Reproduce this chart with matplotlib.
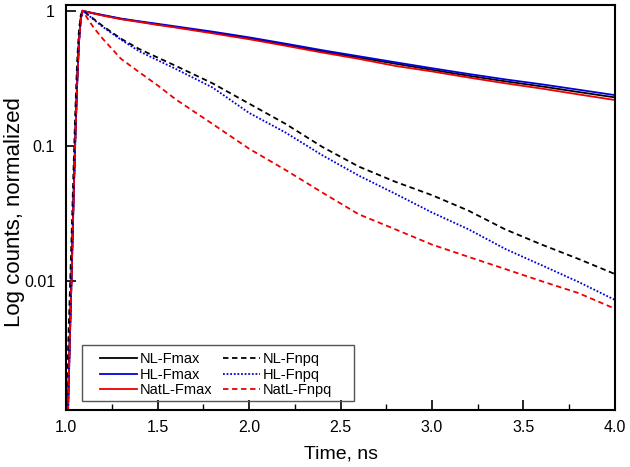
import matplotlib
matplotlib.use("Agg")
import matplotlib.pyplot as plt
from matplotlib.patches import Rectangle
from matplotlib.ticker import FixedLocator, MultipleLocator, NullLocator

plt.rcParams['font.family'] = ['Liberation Sans', 'DejaVu Sans']

# time grid (ns)
t = [1.00, 1.01, 1.02, 1.03, 1.04, 1.05, 1.06, 1.07, 1.08, 1.09, 1.10,
     1.15, 1.20, 1.30, 1.40, 1.50, 1.60, 1.80, 2.00, 2.20, 2.40, 2.60,
     2.80, 3.00, 3.20, 3.40, 3.60, 3.80, 4.00]

# normalized counts
nl_fmax = [0.0006, 0.0012, 0.004, 0.012, 0.04, 0.12, 0.30, 0.60, 0.88, 1.0, 0.99,
           0.955, 0.925, 0.87, 0.83, 0.79, 0.755, 0.69, 0.625, 0.56, 0.50, 0.45,
           0.405, 0.365, 0.33, 0.30, 0.275, 0.25, 0.228]
hl_fmax = [0.0005, 0.0010, 0.0035, 0.011, 0.037, 0.11, 0.28, 0.58, 0.87, 1.0, 0.99,
           0.96, 0.93, 0.875, 0.835, 0.80, 0.765, 0.70, 0.635, 0.57, 0.51, 0.46,
           0.415, 0.375, 0.34, 0.31, 0.285, 0.26, 0.237]
natl_fmax = [0.0005, 0.0011, 0.0038, 0.011, 0.038, 0.115, 0.29, 0.59, 0.87, 1.0, 0.99,
             0.955, 0.92, 0.865, 0.825, 0.785, 0.75, 0.68, 0.615, 0.55, 0.49, 0.44,
             0.39, 0.355, 0.32, 0.29, 0.265, 0.24, 0.218]
nl_fnpq = [0.0012, 0.003, 0.008, 0.022, 0.065, 0.18, 0.42, 0.72, 0.93, 1.0, 0.98,
           0.87, 0.77, 0.62, 0.52, 0.45, 0.39, 0.29, 0.205, 0.145, 0.098, 0.070,
           0.054, 0.043, 0.033, 0.024, 0.0185, 0.0145, 0.0112]
hl_fnpq = [0.0005, 0.0010, 0.0035, 0.011, 0.037, 0.11, 0.28, 0.58, 0.87, 1.0, 0.98,
           0.86, 0.76, 0.61, 0.50, 0.43, 0.37, 0.27, 0.175, 0.125, 0.085, 0.060,
           0.044, 0.032, 0.024, 0.0172, 0.013, 0.0098, 0.0072]
natl_fnpq = [0.0005, 0.0011, 0.0038, 0.011, 0.038, 0.115, 0.29, 0.59, 0.87, 1.0, 0.95,
             0.75, 0.62, 0.44, 0.35, 0.28, 0.22, 0.145, 0.095, 0.066, 0.045, 0.031,
             0.024, 0.0185, 0.015, 0.0122, 0.0099, 0.0081, 0.0062]

fig = plt.figure(figsize=(6.3, 4.67), dpi=100)
ax = fig.add_axes([0.105, 0.122, 0.871, 0.867])

ax.plot(t, nl_fmax, color='black', lw=1.3, label='NL-Fmax')
ax.plot(t, hl_fmax, color='#0000dd', lw=1.3, label='HL-Fmax')
ax.plot(t, natl_fmax, color='#ee0000', lw=1.3, label='NatL-Fmax')
ax.plot(t, nl_fnpq, color='black', lw=1.3, ls=(0, (3, 2)), label='NL-Fnpq')
ax.plot(t, hl_fnpq, color='#0000dd', lw=1.3, ls=(0, (1, 1)), label='HL-Fnpq')
ax.plot(t, natl_fnpq, color='#ee0000', lw=1.3, ls=(0, (3, 2)), label='NatL-Fnpq')

ax.set_yscale('log')
ax.set_xlim(1.0, 4.0)
ax.set_ylim(0.0011, 1.1)

ax.yaxis.set_major_locator(FixedLocator([0.01, 0.1, 1]))
ax.set_yticklabels(['0.01', '0.1', '1'])
ax.yaxis.set_minor_locator(NullLocator())
ax.xaxis.set_major_locator(MultipleLocator(0.5))
ax.xaxis.set_minor_locator(MultipleLocator(0.25))
ax.xaxis.set_major_formatter(plt.FormatStrFormatter('%.1f'))

ax.tick_params(axis='both', which='major', direction='in', length=7, width=1.2,
               labelsize=11.5)
ax.tick_params(axis='x', which='major', pad=7)
ax.tick_params(axis='y', which='major', pad=8)
ax.tick_params(axis='x', which='minor', direction='in', length=4, width=1.0)
for s in ax.spines.values():
    s.set_linewidth(1.5)

ax.set_xlabel('Time, ns', fontsize=14, labelpad=8)
ax.set_ylabel('Log counts, normalized', fontsize=16)
ax.yaxis.set_label_coords(-0.075, 0.49)

leg = ax.legend(ncol=2, loc='lower left', bbox_to_anchor=(0.062, 0.032),
                borderaxespad=0, fontsize=10.5, frameon=False,
                handlelength=2.5, columnspacing=0.75, handletextpad=0.2,
                labelspacing=0.1, borderpad=0)

# legend frame with wider side padding than matplotlib allows
fig.canvas.draw()
bb = leg.get_window_extent().transformed(fig.transFigure.inverted())
px, py = 1 / 630, 1 / 467
frame = Rectangle((bb.x0 - 18 * px, bb.y0 - 4 * py),
                  bb.width + 40 * px, bb.height + 11 * py,
                  transform=fig.transFigure, fill=False,
                  edgecolor='#555555', lw=1.0, zorder=5)
fig.add_artist(frame)

fig.savefig('out.png', dpi=100)
